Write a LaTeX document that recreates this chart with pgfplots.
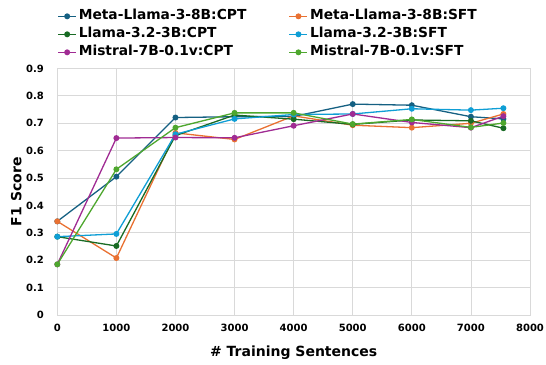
\documentclass[border=0pt]{standalone}
\usepackage{fontspec}
\setmainfont{DejaVu Sans}
\usepackage{pgfplots}
\pgfplotsset{compat=1.18}
\definecolor{c1}{HTML}{156082}
\definecolor{c2}{HTML}{E97132}
\definecolor{c3}{HTML}{196B24}
\definecolor{c4}{HTML}{0F9ED5}
\definecolor{c5}{HTML}{A02B93}
\definecolor{c6}{HTML}{4EA72E}
\definecolor{gridgray}{HTML}{D9D9D9}
\begin{document}
\begin{tikzpicture}
\useasboundingbox (-57.3pt,-49pt) rectangle (488.7pt,315pt);
\begin{axis}[
  at={(0,0)}, anchor=south west,
  scale only axis, width=472.7pt, height=246.5pt,
  xmin=0, xmax=8000, ymin=0, ymax=0.9,
  xtick={0,1000,2000,3000,4000,5000,6000,7000,8000},
  ytick={0,0.1,0.2,0.3,0.4,0.5,0.6,0.7,0.8,0.9},
  /pgf/number format/assume math mode=true,
  /pgf/number format/1000 sep={},
  yticklabel={\pgfmathprintnumber[fixed,precision=1]{\tick}},
  grid=major,
  major grid style={draw=gridgray, line width=0.8pt},
  axis line style={draw=gridgray, line width=0.8pt},
  tick style={draw=none},
  xticklabel style={font=\bfseries\fontsize{10}{12}\selectfont, yshift=-6pt},
  yticklabel style={font=\bfseries\fontsize{10}{12}\selectfont, xshift=-10pt},
  xlabel={\# Training Sentences},
  ylabel={F1 Score},
  xlabel style={font=\bfseries\fontsize{14}{16}\selectfont, at={(axis description cs:0.5,-0.152)}, anchor=center},
  ylabel style={font=\bfseries\fontsize{14}{16}\selectfont, at={(axis description cs:-0.0867,0.5)}, anchor=center},
  every axis plot/.append style={line width=1.3pt, mark=*, mark size=2.3pt, mark options={solid}},
  legend columns=2,
  legend cell align=left,
  legend style={at={(rel axis cs:0,1.247)}, anchor=north west, draw=none, fill=none,
    font=\bfseries\fontsize{13.8}{16}\selectfont, inner sep=0pt,
    nodes={text height=10pt, text depth=3pt, inner sep=2pt}, row sep=1pt},
  legend image code/.code={\draw[mark repeat=2,mark phase=2,#1] plot coordinates {(0pt,0pt) (9pt,0pt) (18pt,0pt)};},
]
\addplot[c1] coordinates {(0,0.342) (1000,0.505) (2000,0.721) (3000,0.724) (4000,0.725) (5000,0.770) (6000,0.766) (7000,0.724) (7550,0.716)};
\addlegendentry{\makebox[208pt][l]{Meta-Llama-3-8B:CPT}}
\addplot[c2] coordinates {(0,0.342) (1000,0.208) (2000,0.665) (3000,0.641) (4000,0.727) (5000,0.693) (6000,0.684) (7000,0.700) (7550,0.734)};
\addlegendentry{Meta-Llama-3-8B:SFT}
\addplot[c3] coordinates {(0,0.286) (1000,0.252) (2000,0.655) (3000,0.730) (4000,0.715) (5000,0.696) (6000,0.712) (7000,0.709) (7550,0.682)};
\addlegendentry{Llama-3.2-3B:CPT}
\addplot[c4] coordinates {(0,0.286) (1000,0.296) (2000,0.660) (3000,0.716) (4000,0.732) (5000,0.734) (6000,0.753) (7000,0.748) (7550,0.755)};
\addlegendentry{Llama-3.2-3B:SFT}
\addplot[c5] coordinates {(0,0.185) (1000,0.646) (2000,0.648) (3000,0.647) (4000,0.691) (5000,0.734) (6000,0.703) (7000,0.684) (7550,0.726)};
\addlegendentry{Mistral-7B-0.1v:CPT}
\addplot[c6] coordinates {(0,0.185) (1000,0.532) (2000,0.684) (3000,0.738) (4000,0.738) (5000,0.697) (6000,0.714) (7000,0.685) (7550,0.701)};
\addlegendentry{Mistral-7B-0.1v:SFT}
\end{axis}
\end{tikzpicture}
\end{document}
